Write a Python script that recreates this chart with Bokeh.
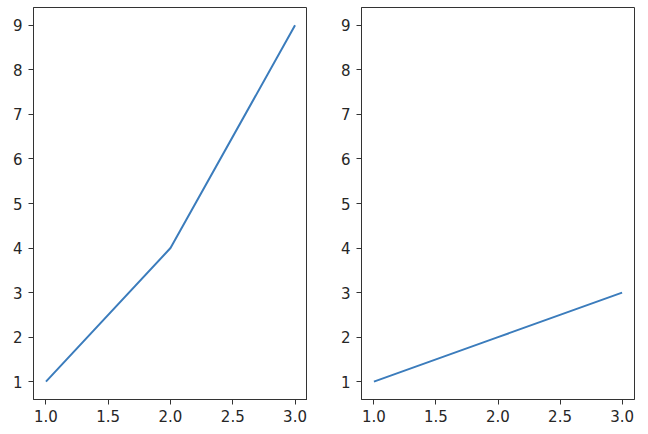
from bokeh.plotting import figure
from bokeh.layouts import row
from bokeh.models import Range1d, FixedTicker, PrintfTickFormatter
from bokeh.embed import file_html
from bokeh.resources import INLINE

x_vals = [1, 2, 3]
y_left = [1, 4, 9]
y_right = [1, 2, 3]
x_ticks = [1.0, 1.5, 2.0, 2.5, 3.0]
y_ticks = [1, 2, 3, 4, 5, 6, 7, 8, 9]

LINE_COLOR = "#3b7cbc"


def make(y, border_left, frame_w, border_right):
    p = figure(output_backend="svg", toolbar_location=None,
               frame_width=frame_w, frame_height=392,
               min_border_left=border_left, min_border_right=border_right,
               min_border_top=7, min_border_bottom=33,
               x_range=Range1d(0.9, 3.1), y_range=Range1d(0.6, 9.4))
    p.line(x_vals, y, line_color=LINE_COLOR, line_width=2)
    p.xgrid.visible = False
    p.ygrid.visible = False
    p.outline_line_color = "#333333"
    p.outline_line_width = 1
    p.outline_line_alpha = 1
    p.background_fill_color = "white"
    p.border_fill_color = "white"
    p.xaxis.ticker = FixedTicker(ticks=x_ticks)
    p.yaxis.ticker = FixedTicker(ticks=y_ticks)
    p.xaxis.formatter = PrintfTickFormatter(format="%.1f")
    p.yaxis.formatter = PrintfTickFormatter(format="%d")
    for ax in (p.xaxis[0], p.yaxis[0]):
        ax.axis_line_color = "#333333"
        ax.major_tick_line_color = "#333333"
        ax.major_tick_out = 5
        ax.major_tick_in = 0
        ax.minor_tick_line_color = None
        ax.major_label_text_font = "DejaVu Sans"
        ax.major_label_text_font_size = "15px"
        ax.major_label_text_color = "#262626"
    p.xaxis[0].major_label_standoff = 5
    p.yaxis[0].major_label_standoff = 6
    return p


p1 = make(y_left, 33, 274, 0)
p2 = make(y_right, 54, 273, 14)

layout = row(p1, p2, spacing=0)
open("out.html", "w").write(file_html(layout, INLINE))
